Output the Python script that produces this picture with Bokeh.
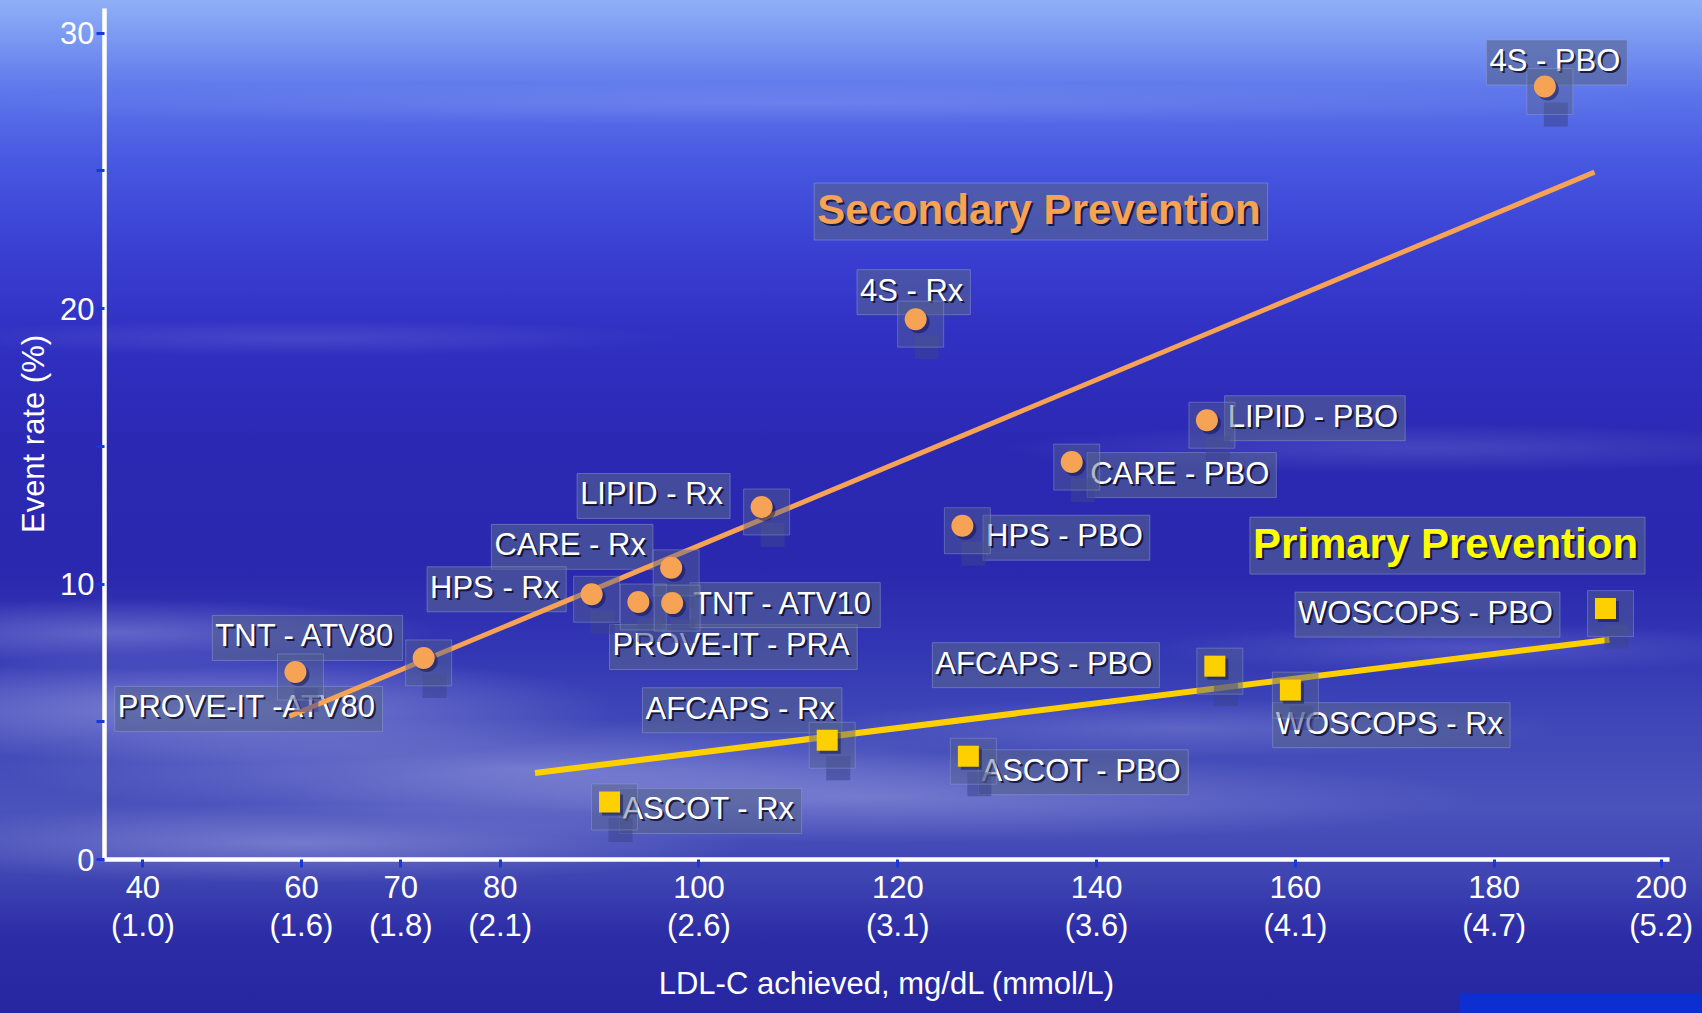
from bokeh.plotting import figure
from bokeh.models import FixedTicker, Label, ColumnDataSource, Range1d
from bokeh.transform import dodge
from bokeh.embed import file_html
from bokeh.resources import INLINE

# ---------------- data ----------------
sec_names = ["4S - PBO", "4S - Rx", "LIPID - PBO", "CARE - PBO", "HPS - PBO", "LIPID - Rx",
             "CARE - Rx", "HPS - Rx", "PROVE-IT - PRA", "TNT - ATV10", "TNT - ATV80", "PROVE-IT -ATV80"]
sec_ldl = [185.1, 121.8, 151.1, 137.5, 126.5, 106.3, 97.2, 89.2, 93.9, 97.3, 59.4, 72.3]
sec_rate = [28.07, 19.62, 15.95, 14.43, 12.12, 12.80, 10.59, 9.63, 9.35, 9.31, 6.81, 7.32]

pri_names = ["WOSCOPS - PBO", "AFCAPS - PBO", "WOSCOPS - Rx", "AFCAPS - Rx", "ASCOT - PBO", "ASCOT - Rx"]
pri_ldl = [191.2, 151.9, 159.5, 112.9, 127.1, 91.0]
pri_rate = [9.11, 7.02, 6.15, 4.33, 3.75, 2.09]

sec_fit_ldl = [58.8, 190.1]
sec_fit_rate = [5.2, 24.96]
pri_fit_ldl = [83.5, 191.6]
pri_fit_rate = [3.14, 7.98]

x_tick_labels = ["40\n(1.0)", "60\n(1.6)", "70\n(1.8)", "80\n(2.1)", "100\n(2.6)", "120\n(3.1)",
                 "140\n(3.6)", "160\n(4.1)", "180\n(4.7)", "200\n(5.2)"]
y_tick_values = [0, 5, 10, 15, 20, 25, 30]
y_tick_labels = ["0", "", "10", "", "20", "", "30"]

# ---------------- layout / style ----------------
x_tick_pos = [44.05, 60, 70, 80, 100, 120, 140, 160, 180, 196.8]   # where the slide draws its ticks
PX_X = 9.94    # px per mg/dL
PX_Y = 27.55   # px per %

# label offsets (px right, px up) from each point
sec_off = [(10, 26), (-4, 29), (106, 4), (108, -11), (102, -10), (-110, 13),
           (-101, 23), (-97, 7), (93, -43), (111, 0), (10, 36), (-177, -49)]
pri_off = [(-180, -4), (-171, 3), (99, -33), (-87, 32), (113, -14), (99, -7)]

ORANGE = "#F6A356"
YELLOW = "#FFD000"
FONT = "Liberation Sans, Arial, sans-serif"
BOX_FILL = "#55628F"
BOX_LINE = "#9AA4D4"
TICK_BLUE = "#1838D8"

p = figure(width=1702, height=1013, output_backend="svg", toolbar_location=None,
           x_range=Range1d(40.19, 197.64), y_range=Range1d(0, 30.9),
           min_border_left=104, min_border_right=33, min_border_top=8, min_border_bottom=154)

p.background_fill_color = None
p.border_fill_color = None
p.outline_line_color = None
p.grid.visible = False

bg = ", ".join([
    "linear-gradient(#0d2fd2, #0d2fd2) right 0 bottom 0 / 242px 20px no-repeat",
    "radial-gradient(ellipse 420px 55px at 200px 708px, rgba(225,230,255,0.38), rgba(225,230,255,0))",
    "radial-gradient(ellipse 320px 35px at 120px 633px, rgba(225,230,255,0.28), rgba(225,230,255,0))",
    "radial-gradient(ellipse 520px 50px at 520px 768px, rgba(225,230,255,0.28), rgba(225,230,255,0))",
    "radial-gradient(ellipse 600px 45px at 880px 798px, rgba(225,230,255,0.26), rgba(225,230,255,0))",
    "radial-gradient(ellipse 450px 40px at 300px 843px, rgba(225,230,255,0.30), rgba(225,230,255,0))",
    "radial-gradient(ellipse 380px 30px at 1180px 728px, rgba(225,230,255,0.18), rgba(225,230,255,0))",
    "radial-gradient(ellipse 330px 25px at 1470px 648px, rgba(225,230,255,0.16), rgba(225,230,255,0))",
    "radial-gradient(ellipse 420px 25px at 1420px 448px, rgba(225,230,255,0.15), rgba(225,230,255,0))",
    "radial-gradient(ellipse 900px 22px at 800px 103px, rgba(225,230,255,0.14), rgba(225,230,255,0))",
    "radial-gradient(ellipse 380px 18px at 300px 338px, rgba(225,230,255,0.12), rgba(225,230,255,0))",
    "linear-gradient(180deg, #8fb0f6 0px, #7b98f2 38px, #5a72ea 98px, #4656e0 168px, #3a40d2 248px, "
    "#3030c2 338px, #2b29b4 438px, #2a28ae 568px, #3236b4 648px, #4048b8 728px, #4a52bc 808px, "
    "#3e44b2 878px, #2c2ca6 938px, #2626a0 1013px)",
])
p.styles = {"background": bg}

# axes
xa = p.xaxis[0]
xa.ticker = FixedTicker(ticks=x_tick_pos, minor_ticks=[])
xa.major_label_overrides = {t: lab for t, lab in zip(x_tick_pos, x_tick_labels)}
xa.axis_label = "LDL-C achieved, mg/dL (mmol/L)"
ya = p.yaxis[0]
ya.ticker = FixedTicker(ticks=y_tick_values, minor_ticks=[])
ya.major_label_overrides = {t: lab for t, lab in zip(y_tick_values, y_tick_labels)}
ya.axis_label = "Event rate (%)"

for ax in (xa, ya):
    ax.axis_line_color = "white"
    ax.axis_line_width = 4.5
    ax.major_tick_line_color = TICK_BLUE
    ax.major_tick_line_width = 3
    ax.major_tick_out = 8
    ax.major_tick_in = 0
    ax.minor_tick_line_color = None
    ax.major_label_text_color = "white"
    ax.major_label_text_font = FONT
    ax.major_label_text_font_size = "31px"
    ax.axis_label_text_color = "white"
    ax.axis_label_text_font = FONT
    ax.axis_label_text_font_size = "31px"
    ax.axis_label_text_font_style = "normal"

xa.major_label_text_line_height = 1.1
xa.major_label_standoff = 2
xa.axis_label_standoff = 20
ya.major_label_standoff = 2
ya.axis_label_standoff = 6


def add_label(x, y, text, dx, dy, color="white", size="31px", style="normal"):
    common = dict(x=x, y=y, text=text, text_align="center", text_baseline="middle",
                  text_font=FONT, text_font_size=size, text_font_style=style, level="underlay")
    # shadow text carrying the translucent box
    p.add_layout(Label(x_offset=dx + 2, y_offset=dy - 2, text_color="#05051e", text_alpha=0.75,
                       background_fill_color=BOX_FILL, background_fill_alpha=0.6,
                       border_line_color=BOX_LINE, border_line_alpha=0.45, border_line_width=1,
                       padding=5, **common))
    p.add_layout(Label(x_offset=dx, y_offset=dy, text_color=color, **common))


# point labels
for n, xv, yv, (dx, dy) in zip(sec_names, sec_ldl, sec_rate, sec_off):
    add_label(xv, yv, n, dx, dy)
for n, xv, yv, (dx, dy) in zip(pri_names, pri_ldl, pri_rate, pri_off):
    add_label(xv, yv, n, dx, dy)

# group titles
add_label(134.2, 23.6, "Secondary Prevention", 0, 0, color=ORANGE, size="42px", style="bold")
add_label(175.1, 11.47, "Primary Prevention", 0, 0, color="#FFFF00", size="42px", style="bold")

# fit lines
p.line(sec_fit_ldl, sec_fit_rate, line_color=ORANGE, line_width=5)
p.line(pri_fit_ldl, pri_fit_rate, line_color=YELLOW, line_width=6)

sec_src = ColumnDataSource(dict(ldl=sec_ldl, rate=sec_rate, name=sec_names))
pri_src = ColumnDataSource(dict(ldl=pri_ldl, rate=pri_rate, name=pri_names))

for src, marker, color, size in ((sec_src, "circle", ORANGE, 22), (pri_src, "square", YELLOW, 21)):
    # drop-shadow tab and frame box behind each marker
    p.scatter(dodge("ldl", 11 / PX_X), dodge("rate", -28 / PX_Y), source=src, marker="square",
              size=24, fill_color="#3a448f", fill_alpha=0.55, line_color=None)
    p.scatter(dodge("ldl", 5 / PX_X), dodge("rate", -5 / PX_Y), source=src, marker="square",
              size=46, fill_color=BOX_FILL, fill_alpha=0.45, line_color=BOX_LINE, line_alpha=0.4, line_width=1)
    # marker shadow
    p.scatter(dodge("ldl", 3 / PX_X), dodge("rate", -3 / PX_Y), source=src, marker=marker,
              size=size, fill_color="#0a0a40", fill_alpha=0.45, line_color=None)
    p.scatter("ldl", "rate", source=src, marker=marker, size=size, fill_color=color, line_color=None)

open("out.html", "w").write(file_html(p, INLINE))
